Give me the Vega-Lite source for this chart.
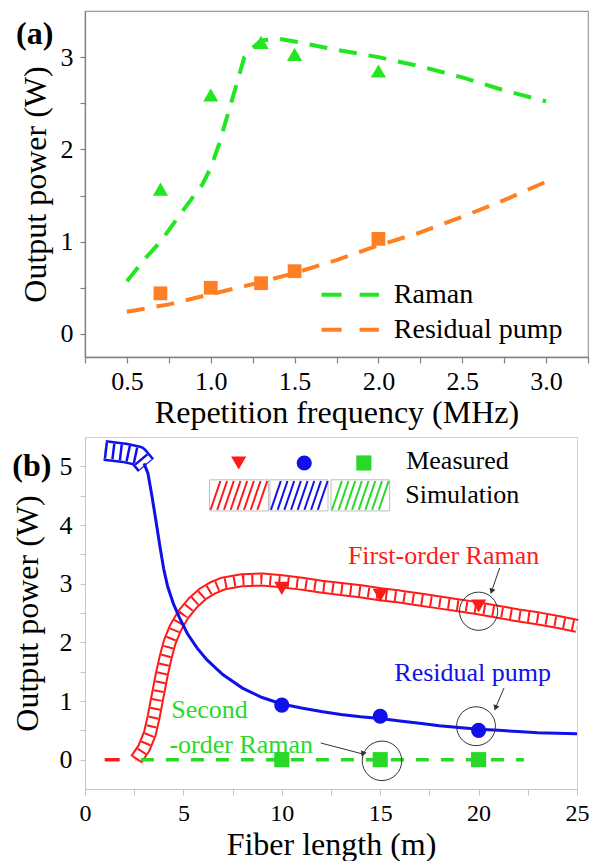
{
  "$schema": "https://vega.github.io/schema/vega-lite/v6.json",
  "background": "white",
  "padding": {"left": 10, "top": 10, "right": 0, "bottom": 0},
  "spacing": 7,
  "resolve": {"scale": {"color": "independent", "shape": "independent", "size": "independent", "angle": "independent"}},
  "config": {
    "font": "Liberation Serif",
    "axis": {"grid": false, "labelFont": "Liberation Serif", "titleFont": "Liberation Serif", "labelColor": "black", "titleColor": "black", "titleFontWeight": "normal", "labelFontSize": 26, "titleFontSize": 32, "labelFlush": false, "labelOverlap": false},
    "text": {"font": "Liberation Serif"}
  },
  "datasets": {
    "simA": [
      {"x": 0.5, "y": 0.57, "series": "Raman"}, {"x": 0.6, "y": 0.8, "series": "Raman"}, {"x": 0.7, "y": 1.0, "series": "Raman"},
      {"x": 0.8, "y": 1.25, "series": "Raman"}, {"x": 0.9, "y": 1.5, "series": "Raman"}, {"x": 0.95, "y": 1.62, "series": "Raman"},
      {"x": 1.0, "y": 1.8, "series": "Raman"}, {"x": 1.05, "y": 2.06, "series": "Raman"}, {"x": 1.1, "y": 2.37, "series": "Raman"},
      {"x": 1.15, "y": 2.68, "series": "Raman"}, {"x": 1.2, "y": 3.0, "series": "Raman"}, {"x": 1.25, "y": 3.1, "series": "Raman"},
      {"x": 1.3, "y": 3.18, "series": "Raman"}, {"x": 1.4, "y": 3.2, "series": "Raman"}, {"x": 1.5, "y": 3.17, "series": "Raman"},
      {"x": 1.75, "y": 3.08, "series": "Raman"}, {"x": 2.0, "y": 3.0, "series": "Raman"}, {"x": 2.25, "y": 2.9, "series": "Raman"},
      {"x": 2.5, "y": 2.78, "series": "Raman"}, {"x": 2.75, "y": 2.64, "series": "Raman"}, {"x": 3.0, "y": 2.52, "series": "Raman"},
      {"x": 0.5, "y": 0.24, "series": "Residual pump"}, {"x": 0.75, "y": 0.32, "series": "Residual pump"}, {"x": 1.0, "y": 0.43, "series": "Residual pump"},
      {"x": 1.25, "y": 0.54, "series": "Residual pump"}, {"x": 1.5, "y": 0.66, "series": "Residual pump"}, {"x": 1.75, "y": 0.8, "series": "Residual pump"},
      {"x": 2.0, "y": 0.96, "series": "Residual pump"}, {"x": 2.25, "y": 1.1, "series": "Residual pump"}, {"x": 2.5, "y": 1.27, "series": "Residual pump"},
      {"x": 2.75, "y": 1.45, "series": "Residual pump"}, {"x": 3.0, "y": 1.65, "series": "Residual pump"}
    ],
    "measA": [
      {"x": 0.7, "y": 1.57, "series": "Raman"}, {"x": 1.0, "y": 2.59, "series": "Raman"}, {"x": 1.3, "y": 3.16, "series": "Raman"},
      {"x": 1.5, "y": 3.03, "series": "Raman"}, {"x": 2.0, "y": 2.85, "series": "Raman"},
      {"x": 0.7, "y": 0.44, "series": "Residual pump"}, {"x": 1.0, "y": 0.5, "series": "Residual pump"}, {"x": 1.3, "y": 0.55, "series": "Residual pump"},
      {"x": 1.5, "y": 0.68, "series": "Residual pump"}, {"x": 2.0, "y": 1.03, "series": "Residual pump"}
    ],
    "legA": [
      {"x": 1.661, "x2": 2.003, "tx": 2.092, "y": 0.424, "series": "Raman"},
      {"x": 1.661, "x2": 2.003, "tx": 2.092, "y": 0.046, "series": "Residual pump"}
    ],
    "labA": [{"x": -0.05, "y": 3.25, "label": "(a)"}],
    "bRed": [
      {"x": 2.6, "y": 0.0}, {"x": 3.0, "y": 0.2}, {"x": 3.3, "y": 0.45}, {"x": 3.5, "y": 0.75}, {"x": 3.7, "y": 1.1},
      {"x": 3.9, "y": 1.45}, {"x": 4.1, "y": 1.75}, {"x": 4.3, "y": 2.0}, {"x": 4.6, "y": 2.25}, {"x": 5.0, "y": 2.48},
      {"x": 5.5, "y": 2.68}, {"x": 6.0, "y": 2.83}, {"x": 6.5, "y": 2.93}, {"x": 7.0, "y": 3.0}, {"x": 8.0, "y": 3.06},
      {"x": 9.0, "y": 3.07}, {"x": 10.0, "y": 3.04}, {"x": 11.0, "y": 3.0}, {"x": 12.0, "y": 2.95}, {"x": 13.0, "y": 2.91},
      {"x": 14.0, "y": 2.87}, {"x": 15.0, "y": 2.82}, {"x": 16.0, "y": 2.78}, {"x": 17.0, "y": 2.73}, {"x": 18.0, "y": 2.68},
      {"x": 19.0, "y": 2.63}, {"x": 20.0, "y": 2.58}, {"x": 21.0, "y": 2.52}, {"x": 22.0, "y": 2.46}, {"x": 23.0, "y": 2.41},
      {"x": 24.0, "y": 2.35}, {"x": 25.0, "y": 2.28}
    ],
    "bBlueBand": [
      {"x": 1.0, "y": 5.27}, {"x": 2.0, "y": 5.23}, {"x": 2.7, "y": 5.18}, {"x": 3.1, "y": 5.02}
    ],
    "bBlue": [
      {"x": 3.0, "y": 5.05}, {"x": 3.2, "y": 4.88}, {"x": 3.4, "y": 4.5}, {"x": 3.6, "y": 4.08}, {"x": 3.8, "y": 3.65},
      {"x": 4.0, "y": 3.25}, {"x": 4.2, "y": 2.95}, {"x": 4.5, "y": 2.65}, {"x": 4.8, "y": 2.42}, {"x": 5.2, "y": 2.15},
      {"x": 5.7, "y": 1.9}, {"x": 6.2, "y": 1.7}, {"x": 7.0, "y": 1.45}, {"x": 8.0, "y": 1.22}, {"x": 9.0, "y": 1.06},
      {"x": 10.0, "y": 0.95}, {"x": 11.0, "y": 0.88}, {"x": 12.0, "y": 0.82}, {"x": 13.0, "y": 0.77}, {"x": 14.0, "y": 0.73},
      {"x": 15.0, "y": 0.7}, {"x": 16.0, "y": 0.66}, {"x": 17.0, "y": 0.62}, {"x": 18.0, "y": 0.58}, {"x": 19.0, "y": 0.55},
      {"x": 20.0, "y": 0.52}, {"x": 21.0, "y": 0.5}, {"x": 22.0, "y": 0.48}, {"x": 23.0, "y": 0.46}, {"x": 24.0, "y": 0.45},
      {"x": 25.0, "y": 0.44}
    ],
    "bRedZero": [{"x": 1.0, "y": 0}, {"x": 2.6, "y": 0}],
    "bGreen": [{"x": 2.84, "y": 0}, {"x": 22.3, "y": 0}],
    "measB": [
      {"x": 10, "y": 2.92, "series": "First-order Raman"}, {"x": 15, "y": 2.8, "series": "First-order Raman"}, {"x": 20, "y": 2.62, "series": "First-order Raman"},
      {"x": 10, "y": 0.93, "series": "Residual pump"}, {"x": 15, "y": 0.74, "series": "Residual pump"}, {"x": 20, "y": 0.5, "series": "Residual pump"},
      {"x": 10, "y": 0, "series": "Second-order Raman"}, {"x": 15, "y": 0, "series": "Second-order Raman"}, {"x": 20, "y": 0, "series": "Second-order Raman"}
    ],
    "legBMark": [
      {"x": 7.81, "y": 5.057, "series": "First-order Raman"},
      {"x": 11.14, "y": 5.057, "series": "Residual pump"},
      {"x": 14.17, "y": 5.057, "series": "Second-order Raman"}
    ],
    "legBBox": [
      {"x": 6.33, "x2": 9.33, "y": 4.24, "y2": 4.77},
      {"x": 9.4, "x2": 12.35, "y": 4.24, "y2": 4.77},
      {"x": 12.5, "x2": 15.48, "y": 4.24, "y2": 4.77}
    ],
    "hatch": [
      {"x": 6.38, "x2": 6.88, "y": 4.26, "y2": 4.75, "series": "First-order Raman"},
      {"x": 6.72, "x2": 7.22, "y": 4.26, "y2": 4.75, "series": "First-order Raman"},
      {"x": 7.06, "x2": 7.56, "y": 4.26, "y2": 4.75, "series": "First-order Raman"},
      {"x": 7.40, "x2": 7.90, "y": 4.26, "y2": 4.75, "series": "First-order Raman"},
      {"x": 7.74, "x2": 8.24, "y": 4.26, "y2": 4.75, "series": "First-order Raman"},
      {"x": 8.08, "x2": 8.58, "y": 4.26, "y2": 4.75, "series": "First-order Raman"},
      {"x": 8.42, "x2": 8.92, "y": 4.26, "y2": 4.75, "series": "First-order Raman"},
      {"x": 8.76, "x2": 9.26, "y": 4.26, "y2": 4.75, "series": "First-order Raman"},
      {"x": 9.45, "x2": 9.95, "y": 4.26, "y2": 4.75, "series": "Residual pump"},
      {"x": 9.79, "x2": 10.29, "y": 4.26, "y2": 4.75, "series": "Residual pump"},
      {"x": 10.13, "x2": 10.63, "y": 4.26, "y2": 4.75, "series": "Residual pump"},
      {"x": 10.47, "x2": 10.97, "y": 4.26, "y2": 4.75, "series": "Residual pump"},
      {"x": 10.81, "x2": 11.31, "y": 4.26, "y2": 4.75, "series": "Residual pump"},
      {"x": 11.15, "x2": 11.65, "y": 4.26, "y2": 4.75, "series": "Residual pump"},
      {"x": 11.49, "x2": 11.99, "y": 4.26, "y2": 4.75, "series": "Residual pump"},
      {"x": 11.83, "x2": 12.33, "y": 4.26, "y2": 4.75, "series": "Residual pump"},
      {"x": 12.55, "x2": 13.05, "y": 4.26, "y2": 4.75, "series": "Second-order Raman"},
      {"x": 12.89, "x2": 13.39, "y": 4.26, "y2": 4.75, "series": "Second-order Raman"},
      {"x": 13.23, "x2": 13.73, "y": 4.26, "y2": 4.75, "series": "Second-order Raman"},
      {"x": 13.57, "x2": 14.07, "y": 4.26, "y2": 4.75, "series": "Second-order Raman"},
      {"x": 13.91, "x2": 14.41, "y": 4.26, "y2": 4.75, "series": "Second-order Raman"},
      {"x": 14.25, "x2": 14.75, "y": 4.26, "y2": 4.75, "series": "Second-order Raman"},
      {"x": 14.59, "x2": 15.09, "y": 4.26, "y2": 4.75, "series": "Second-order Raman"},
      {"x": 14.93, "x2": 15.43, "y": 4.26, "y2": 4.75, "series": "Second-order Raman"}
    ],
    "legBText": [
      {"x": 16.32, "y": 5.09, "label": "Measured"},
      {"x": 16.27, "y": 4.51, "label": "Simulation"}
    ],
    "circles": [
      {"x": 20.0, "y": 2.53, "target": "First-order Raman"},
      {"x": 19.87, "y": 0.57, "target": "Residual pump"},
      {"x": 15.09, "y": -0.02, "target": "Second-order Raman"}
    ],
    "arrows": [
      {"x": 21.07, "y": 3.267, "x2": 20.66, "y2": 2.87, "target": "First-order Raman"},
      {"x": 21.29, "y": 1.222, "x2": 20.86, "y2": 0.881, "target": "Residual pump"},
      {"x": 11.98, "y": 0.284, "x2": 14.11, "y2": 0.097, "target": "Second-order Raman"}
    ],
    "textsCenter": [
      {"x": 18.22, "y": 3.467, "label": "First-order Raman", "series": "First-order Raman"},
      {"x": 19.7, "y": 1.478, "label": "Residual pump", "series": "Residual pump"}
    ],
    "textsLeft": [
      {"x": 4.38, "y": 0.852, "label": "Second", "series": "Second-order Raman"},
      {"x": 4.29, "y": 0.255, "label": "-order Raman", "series": "Second-order Raman"}
    ],
    "labB": [{"x": -2.7, "y": 5.0, "label": "(b)"}]
  },
  "vconcat": [
    {
      "width": 503,
      "height": 346,
      "view": {"stroke": "#9a9a9a", "strokeWidth": 1.2},
      "encoding": {
        "x": {"field": "x", "type": "quantitative",
          "scale": {"domain": [0.25, 3.25], "nice": false, "zero": false},
          "axis": {"title": "Repetition frequency (MHz)", "values": [0.25, 0.5, 0.75, 1.0, 1.25, 1.5, 1.75, 2.0, 2.25, 2.5, 2.75, 3.0, 3.25],
            "labelExpr": "(datum.value * 2) % 1 === 0 ? format(datum.value, '.1f') : ''",
            "domainColor": "#808080", "tickColor": "#808080", "domainWidth": 1.3, "tickWidth": 1.2, "tickSize": 6, "labelPadding": 5, "titlePadding": 3}},
        "y": {"field": "y", "type": "quantitative",
          "scale": {"domain": [-0.25, 3.5], "nice": false, "zero": false},
          "axis": {"title": "Output power (W)", "values": [0, 0.5, 1, 1.5, 2, 2.5, 3],
            "labelExpr": "datum.value % 1 === 0 ? format(datum.value, 'd') : ''",
            "domainColor": "#808080", "tickColor": "#808080", "domainWidth": 1.3, "tickWidth": 1.2, "tickSize": 5, "labelPadding": 7, "titlePadding": 8}}
      },
      "layer": [
        {
          "data": {"name": "simA"},
          "mark": {"type": "line", "strokeWidth": 4, "strokeDash": [18, 12]},
          "encoding": {
            "color": {"field": "series", "type": "nominal", "legend": null,
              "scale": {"domain": ["Raman", "Residual pump"], "range": ["#22e622", "#ff8024"]}}
          }
        },
        {
          "data": {"name": "measA"},
          "transform": [{"filter": "datum.series === 'Raman'"}],
          "mark": {"type": "point", "shape": "triangle-up", "filled": true, "size": 230, "color": "#22e622", "opacity": 1}
        },
        {
          "data": {"name": "measA"},
          "transform": [{"filter": "datum.series === 'Residual pump'"}],
          "mark": {"type": "point", "shape": "square", "filled": true, "size": 190, "color": "#ff8024", "opacity": 1}
        },
        {
          "data": {"name": "legA"},
          "mark": {"type": "rule", "strokeWidth": 4, "strokeDash": [20, 18]},
          "encoding": {
            "x2": {"field": "x2"},
            "color": {"field": "series", "type": "nominal", "legend": null,
              "scale": {"domain": ["Raman", "Residual pump"], "range": ["#22e622", "#ff8024"]}}
          }
        },
        {
          "data": {"name": "legA"},
          "mark": {"type": "text", "align": "left", "baseline": "middle", "fontSize": 28, "color": "black"},
          "encoding": {
            "x": {"field": "tx", "type": "quantitative"},
            "text": {"field": "series"}
          }
        },
        {
          "data": {"name": "labA"},
          "mark": {"type": "text", "align": "center", "baseline": "middle", "fontSize": 32, "fontWeight": "bold", "color": "black"},
          "encoding": {"text": {"field": "label"}}
        }
      ]
    },
    {
      "width": 492,
      "height": 352,
      "view": {"stroke": "#d0d0d0", "strokeWidth": 1},
      "resolve": {"scale": {"size": "independent"}},
      "encoding": {
        "x": {"field": "x", "type": "quantitative",
          "scale": {"domain": [0, 25], "nice": false, "zero": false},
          "axis": {"title": "Fiber length (m)", "values": [0, 2.5, 5, 7.5, 10, 12.5, 15, 17.5, 20, 22.5, 25],
            "labelExpr": "datum.value % 5 === 0 ? format(datum.value, 'd') : ''",
            "domainColor": "#c4c4c4", "tickColor": "#c4c4c4", "tickSize": 6, "labelFontSize": 24, "labelPadding": 6, "titlePadding": 4}},
        "y": {"field": "y", "type": "quantitative",
          "scale": {"domain": [-0.5, 5.5], "nice": false, "zero": false},
          "axis": {"title": "Output power (W)", "values": [0, 0.5, 1, 1.5, 2, 2.5, 3, 3.5, 4, 4.5, 5],
            "labelExpr": "datum.value % 1 === 0 ? format(datum.value, 'd') : ''",
            "domainColor": "#c4c4c4", "tickColor": "#c4c4c4", "tickSize": 5, "labelPadding": 8, "titlePadding": 15}}
      },
      "layer": [
        {
          "data": {"name": "legBBox"},
          "mark": {"type": "rect", "fill": "white", "stroke": "#bdbdbd", "strokeWidth": 1},
          "encoding": {"x2": {"field": "x2"}, "y2": {"field": "y2"}}
        },
        {
          "data": {"name": "hatch"},
          "mark": {"type": "rule", "strokeWidth": 2},
          "encoding": {
            "x2": {"field": "x2"}, "y2": {"field": "y2"},
            "color": {"field": "series", "type": "nominal", "legend": null,
              "scale": {"domain": ["First-order Raman", "Residual pump", "Second-order Raman"], "range": ["#ff1a1a", "#1010e8", "#2ad82a"]}}
          }
        },
        {
          "data": {"name": "bRed"},
          "mark": {"type": "line", "color": "#ff1a1a", "strokeWidth": 14, "strokeJoin": "round"}
        },
        {
          "data": {"name": "bRed"},
          "mark": {"type": "line", "color": "white", "strokeWidth": 10, "strokeJoin": "round"}
        },
        {
          "data": {"name": "bRed"},
          "mark": {"type": "line", "color": "#ff1a1a", "strokeWidth": 10, "strokeDash": [2, 7], "strokeJoin": "round"}
        },
        {
          "data": {"name": "bBlueBand"},
          "mark": {"type": "line", "color": "#1010e8", "strokeWidth": 21, "strokeJoin": "round"}
        },
        {
          "data": {"name": "bBlueBand"},
          "mark": {"type": "line", "color": "white", "strokeWidth": 16, "strokeJoin": "round"}
        },
        {
          "data": {"name": "bBlueBand"},
          "mark": {"type": "line", "color": "#1010e8", "strokeWidth": 16, "strokeDash": [2.5, 5], "strokeJoin": "round"}
        },
        {
          "data": {"name": "bBlue"},
          "mark": {"type": "line", "color": "#1010e8", "strokeWidth": 3}
        },
        {
          "data": {"name": "bRedZero"},
          "mark": {"type": "line", "color": "#ff1a1a", "strokeWidth": 3.5, "strokeDash": [15, 16]}
        },
        {
          "data": {"name": "bGreen"},
          "mark": {"type": "line", "color": "#2ad82a", "strokeWidth": 3.5, "strokeDash": [13, 12]}
        },
        {
          "data": {"name": "measB"},
          "mark": {"type": "point", "filled": true, "opacity": 1},
          "encoding": {
            "color": {"field": "series", "type": "nominal", "legend": null,
              "scale": {"domain": ["First-order Raman", "Residual pump", "Second-order Raman"], "range": ["#ff1a1a", "#1010e8", "#2ad82a"]}},
            "shape": {"field": "series", "type": "nominal", "legend": null,
              "scale": {"domain": ["First-order Raman", "Residual pump", "Second-order Raman"], "range": ["triangle-down", "circle", "square"]}},
            "size": {"field": "series", "type": "nominal", "legend": null,
              "scale": {"domain": ["First-order Raman", "Residual pump", "Second-order Raman"], "range": [230, 230, 170]}}
          }
        },
        {
          "data": {"name": "legBMark"},
          "mark": {"type": "point", "filled": true, "opacity": 1},
          "encoding": {
            "color": {"field": "series", "type": "nominal", "legend": null,
              "scale": {"domain": ["First-order Raman", "Residual pump", "Second-order Raman"], "range": ["#ff1a1a", "#1010e8", "#2ad82a"]}},
            "shape": {"field": "series", "type": "nominal", "legend": null,
              "scale": {"domain": ["First-order Raman", "Residual pump", "Second-order Raman"], "range": ["triangle-down", "circle", "square"]}},
            "size": {"field": "series", "type": "nominal", "legend": null,
              "scale": {"domain": ["First-order Raman", "Residual pump", "Second-order Raman"], "range": [230, 230, 170]}}
          }
        },
        {
          "data": {"name": "circles"},
          "mark": {"type": "point", "shape": "circle", "filled": false, "stroke": "#333333", "strokeWidth": 1, "opacity": 1},
          "encoding": {
            "size": {"field": "target", "type": "nominal", "legend": null,
              "scale": {"domain": ["First-order Raman", "Residual pump", "Second-order Raman"], "range": [1460, 1560, 950]}}
          }
        },
        {
          "data": {"name": "arrows"},
          "mark": {"type": "rule", "color": "#333333", "strokeWidth": 1},
          "encoding": {"x2": {"field": "x2"}, "y2": {"field": "y2"}}
        },
        {
          "data": {"name": "arrows"},
          "mark": {"type": "point", "shape": "triangle-up", "filled": true, "color": "#333333", "size": 40, "opacity": 1},
          "encoding": {
            "x": {"field": "x2", "type": "quantitative"},
            "y": {"field": "y2", "type": "quantitative"},
            "angle": {"field": "target", "type": "nominal", "legend": null,
              "scale": {"domain": ["First-order Raman", "Residual pump", "Second-order Raman"], "range": [199, 203, 105]}}
          }
        },
        {
          "data": {"name": "textsCenter"},
          "mark": {"type": "text", "align": "center", "baseline": "middle", "fontSize": 26},
          "encoding": {
            "text": {"field": "label"},
            "color": {"field": "series", "type": "nominal", "legend": null,
              "scale": {"domain": ["First-order Raman", "Residual pump", "Second-order Raman"], "range": ["#ff1a1a", "#1010e8", "#2ad82a"]}}
          }
        },
        {
          "data": {"name": "textsLeft"},
          "mark": {"type": "text", "align": "left", "baseline": "middle", "fontSize": 26},
          "encoding": {
            "text": {"field": "label"},
            "color": {"field": "series", "type": "nominal", "legend": null,
              "scale": {"domain": ["First-order Raman", "Residual pump", "Second-order Raman"], "range": ["#ff1a1a", "#1010e8", "#2ad82a"]}}
          }
        },
        {
          "data": {"name": "legBText"},
          "mark": {"type": "text", "align": "left", "baseline": "middle", "fontSize": 26, "color": "black"},
          "encoding": {"text": {"field": "label"}}
        },
        {
          "data": {"name": "labB"},
          "mark": {"type": "text", "align": "center", "baseline": "middle", "fontSize": 32, "fontWeight": "bold", "color": "black"},
          "encoding": {"text": {"field": "label"}}
        }
      ]
    }
  ]
}
